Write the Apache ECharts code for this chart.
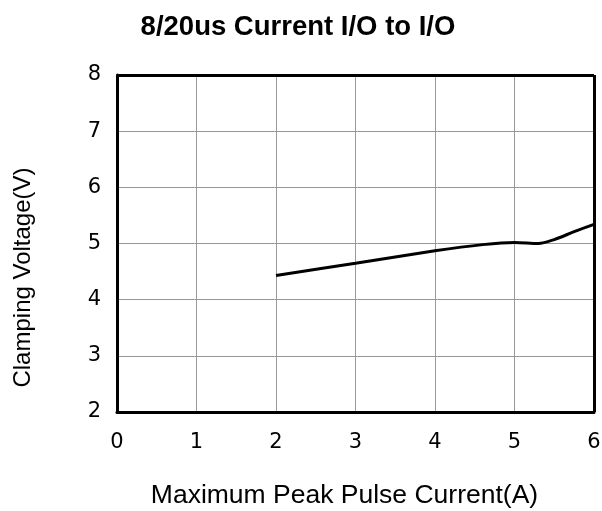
<!DOCTYPE html>
<html>
<head>
<meta charset="utf-8">
<script src="https://cdn.jsdelivr.net/npm/echarts@6/dist/echarts.min.js"></script>
<style>
    html, body { margin: 0; padding: 0; background: #fff; }
    #chart { width: 602px; height: 511px; }
</style>
</head>
<body>
<div id="chart"></div>
<script>
// values
const currentA = [2, 3, 4, 4.6, 5, 5.3, 5.5, 5.75, 6];
const clampV = [4.43, 4.65, 4.87, 4.98, 5.02, 5.0, 5.07, 5.21, 5.34];
const xTicks = [0, 1, 2, 3, 4, 5, 6];
const yTicks = [2, 3, 4, 5, 6, 7, 8];

function generateChart() {
    let chart = echarts.init(document.getElementById('chart'), null, { renderer: 'canvas' });
    let points = currentA.map((x, i) => [x, clampV[i]]);
    let option = {
        animation: false,
        title: {
            text: '8/20us Current I/O to I/O',
            left: 293,
            textAlign: 'center',
            top: 8,
            textStyle: { fontFamily: 'Liberation Sans', fontWeight: 'bold', fontSize: 27.5, color: '#000' }
        },
        grid: { left: 117, right: 8, top: 75, bottom: 99, outerBoundsMode: 'none', containLabel: false },
        xAxis: {
            type: 'value',
            min: xTicks[0],
            max: xTicks[xTicks.length - 1],
            interval: 1,
            name: 'Maximum Peak Pulse Current(A)',
            nameLocation: 'middle',
            nameGap: 70,
            nameTextStyle: { fontFamily: 'Liberation Sans', fontSize: 26.5, color: '#000', padding: [0, 22, 0, 0] },
            axisLine: { show: true, lineStyle: { color: '#000', width: 3 } },
            axisTick: { show: false },
            axisLabel: { margin: 20, fontFamily: 'DejaVu Sans', fontSize: 21, color: '#000' },
            splitLine: { show: true, lineStyle: { color: '#999', width: 1 } }
        },
        yAxis: {
            type: 'value',
            min: yTicks[0],
            max: yTicks[yTicks.length - 1],
            interval: 1,
            name: 'Clamping Voltage(V)',
            nameLocation: 'middle',
            nameGap: 82,
            nameTextStyle: { fontFamily: 'Liberation Sans', fontSize: 24, color: '#000', padding: [0, 68, 0, 0] },
            axisLine: { show: true, lineStyle: { color: '#000', width: 3 } },
            axisTick: { show: false },
            axisLabel: { margin: 16, fontFamily: 'DejaVu Sans', fontSize: 21, color: '#000' },
            splitLine: { show: true, lineStyle: { color: '#999', width: 1 } }
        },
        series: [{
            type: 'line',
            data: points,
            smooth: 0.3,
            showSymbol: false,
            lineStyle: { color: '#000', width: 3 }
        }, {
            // right/top frame edges
            type: 'line',
            data: [],
            markLine: {
                silent: true,
                symbol: 'none',
                label: { show: false },
                lineStyle: { color: '#000', width: 3, type: 'solid' },
                data: [{ xAxis: 6 }, { yAxis: 8 }]
            }
        }]
    };
    chart.setOption(option);
}

generateChart();
</script>
</body>
</html>
